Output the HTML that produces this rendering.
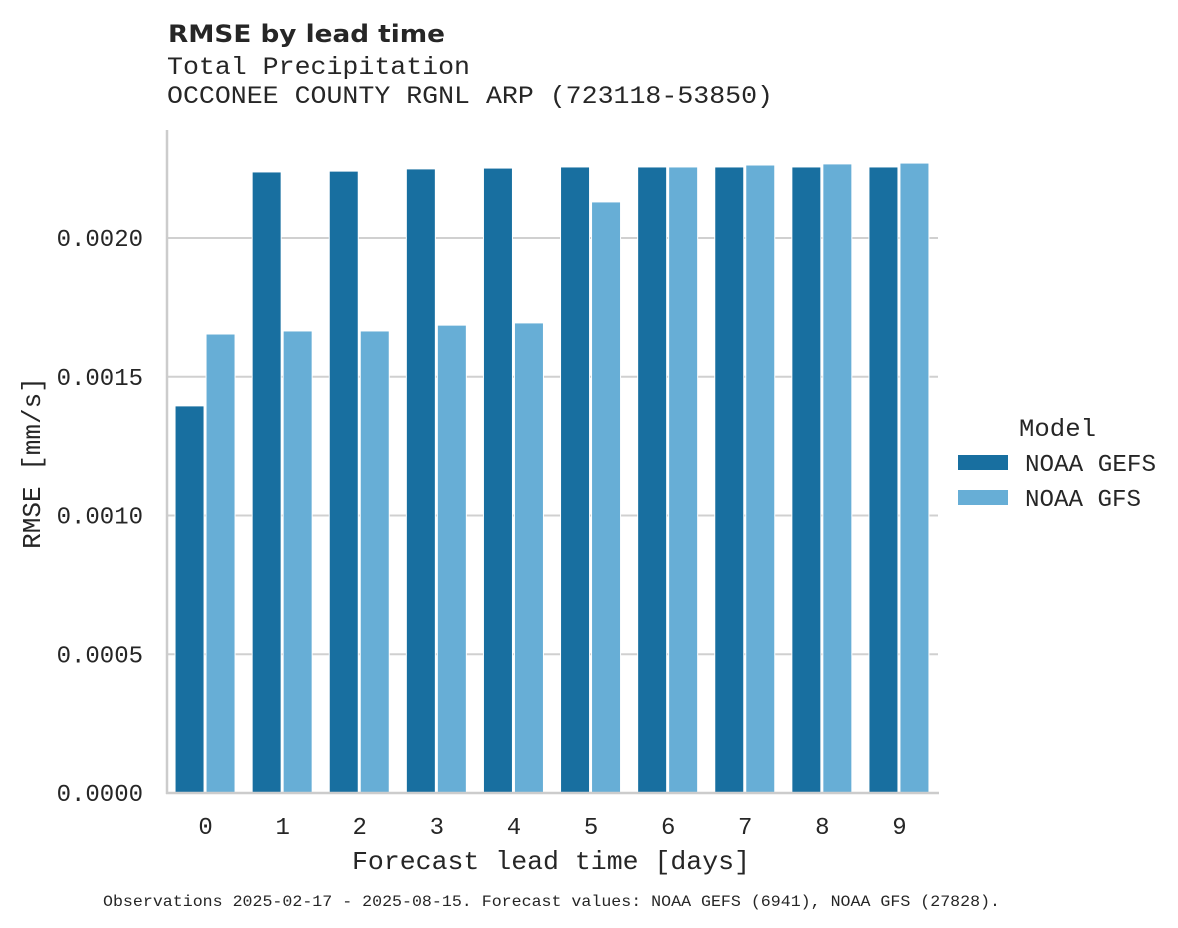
<!DOCTYPE html>
<html><head><meta charset="utf-8"><style>
body{margin:0;background:#fff}
svg{display:block}
.m{font-family:"Liberation Mono",monospace;fill:#262626}
</style></head><body>
<svg id="c" width="1178" height="928" xmlns="http://www.w3.org/2000/svg">
<text x="168" y="42" font-family="DejaVu Sans, Liberation Sans, sans-serif" font-weight="bold" font-size="24" fill="#262626" textLength="277" lengthAdjust="spacingAndGlyphs">RMSE by lead time</text>
<text class="m" x="167" y="74" font-size="25" textLength="303" lengthAdjust="spacingAndGlyphs">Total Precipitation</text>
<text class="m" x="167" y="103" font-size="25" textLength="606" lengthAdjust="spacingAndGlyphs">OCCONEE COUNTY RGNL ARP (723118-53850)</text>
<g id="grid"></g>
<g id="bars"></g>
<line x1="167" y1="130" x2="167" y2="794" stroke="#cccccc" stroke-width="2.5"/>
<line x1="166" y1="793" x2="939" y2="793" stroke="#cccccc" stroke-width="2.5"/>
<g id="yt"></g>
<g id="xt"></g>
<text class="m" x="551" y="869" font-size="26" text-anchor="middle" textLength="398" lengthAdjust="spacingAndGlyphs">Forecast lead time [days]</text>
<text class="m" transform="translate(40,463) rotate(-90)" font-size="26" text-anchor="middle">RMSE [mm/s]</text>
<g>
<text class="m" x="1019" y="436" font-size="25" textLength="77" lengthAdjust="spacingAndGlyphs">Model</text>
<rect x="958" y="455" width="50" height="15" fill="#186fa0"/>
<text class="m" x="1025" y="471" font-size="24" textLength="131" lengthAdjust="spacingAndGlyphs">NOAA GEFS</text>
<rect x="958" y="490" width="50" height="15" fill="#67aed6"/>
<text class="m" x="1025" y="506" font-size="24" textLength="116" lengthAdjust="spacingAndGlyphs">NOAA GFS</text>
</g>
<text class="m" x="103" y="906" font-size="16" textLength="897" lengthAdjust="spacingAndGlyphs">Observations 2025-02-17 - 2025-08-15. Forecast values: NOAA GEFS (6941), NOAA GFS (27828).</text>
</svg>
<script>
const categories = [0,1,2,3,4,5,6,7,8,9];
const gefsValues = [0.001395,0.002238,0.002241,0.002249,0.002252,0.002256,0.002256,0.002256,0.002256,0.002256];
const gfsValues = [0.001654,0.001665,0.001665,0.001686,0.001694,0.00213,0.002256,0.002263,0.002267,0.00227];
const yTicks = [0,0.0005,0.001,0.0015,0.002];
const yTickLabels = ["0.0000","0.0005","0.0010","0.0015","0.0020"];
const NS="http://www.w3.org/2000/svg";
const x0=167, step=77.1, y0=793, yScale=277.5/0.001;
function yPos(v){return y0 - v*yScale;}
function xCenter(i){return x0 + step*(i+0.5);}
const grid=document.getElementById('grid'), yt=document.getElementById('yt'), xt=document.getElementById('xt'), bars=document.getElementById('bars');
yTicks.forEach((t,i)=>{
  const y=yPos(t);
  if(t>0){
    const l=document.createElementNS(NS,'line');
    l.setAttribute('x1',167);l.setAttribute('x2',938);l.setAttribute('y1',y);l.setAttribute('y2',y);
    l.setAttribute('stroke','#d0d0d0');l.setAttribute('stroke-width','2');
    
    
    grid.appendChild(l);
  }
  const tx=document.createElementNS(NS,'text');
  tx.setAttribute('class','m');tx.setAttribute('x',143);tx.setAttribute('y',y+8);
  tx.setAttribute('font-size','24');tx.setAttribute('text-anchor','end');
  tx.textContent=yTickLabels[i];
  
  
  yt.appendChild(tx);
});
categories.forEach((c,i)=>{
  const cx=xCenter(i);
  [[gefsValues[i],'#186fa0',cx-30.5,'bar-gefs'],[gfsValues[i],'#67aed6',cx+0.5,'bar-gfs']].forEach(([v,col,bx,nm])=>{
    const r=document.createElementNS(NS,'rect');
    r.setAttribute('x',bx);r.setAttribute('width',29);
    r.setAttribute('y',yPos(v));r.setAttribute('height',y0-yPos(v));
    r.setAttribute('fill',col);r.setAttribute('stroke','#fff');r.setAttribute('stroke-width','1');
    
    
    bars.appendChild(r);
  });
  const tx=document.createElementNS(NS,'text');
  tx.setAttribute('class','m');tx.setAttribute('x',cx);tx.setAttribute('y',834);
  tx.setAttribute('font-size','24');tx.setAttribute('text-anchor','middle');
  tx.textContent=c;
  
  
  xt.appendChild(tx);
});
</script>
</body></html>
